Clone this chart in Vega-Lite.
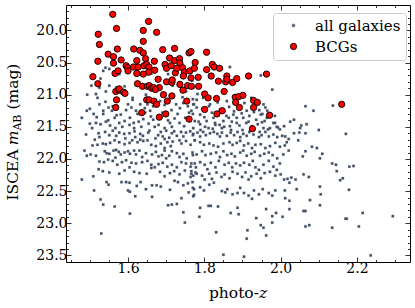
{
"$schema": "https://vega.github.io/schema/vega-lite/v6.json",
"width": 344, "height": 257,
"autosize": "none",
"padding": {"left": 66, "top": 5, "right": 5, "bottom": 46},
"background": "white",
"config": {
  "font": "DejaVu Serif",
  "view": {"stroke": "black", "strokeWidth": 1},
  "axis": {"domain": false, "grid": false, "tickColor": "black", "tickWidth": 0.8, "labelFont": "DejaVu Serif", "labelFontSize": 14, "labelColor": "black", "titleFont": "DejaVu Serif", "titleFontSize": 15.5, "titleFontWeight": "normal", "titleColor": "black", "labelOverlap": false, "labelFlush": false, "labelBound": false}
},
"datasets": {
"gal": [
{"z":1.490,"m":21.62},{"z":1.523,"m":21.60},{"z":1.525,"m":21.66},{"z":1.540,"m":21.58},{"z":1.551,"m":21.63},{"z":1.560,"m":21.56},{"z":1.569,"m":21.64},{"z":1.577,"m":21.59},{"z":1.590,"m":21.61},{"z":1.593,"m":21.68},{"z":1.604,"m":21.60},{"z":1.617,"m":21.57},{"z":1.619,"m":21.66},{"z":1.632,"m":21.61},{"z":1.639,"m":21.64},{"z":1.653,"m":21.59},{"z":1.656,"m":21.56},{"z":1.672,"m":21.68},{"z":1.679,"m":21.63},{"z":1.686,"m":21.58},{"z":1.691,"m":21.65},{"z":1.696,"m":21.69},{"z":1.700,"m":21.56},{"z":1.708,"m":21.67},{"z":1.715,"m":21.60},{"z":1.721,"m":21.57},{"z":1.728,"m":21.64},{"z":1.739,"m":21.58},{"z":1.745,"m":21.65},{"z":1.752,"m":21.59},{"z":1.763,"m":21.57},{"z":1.770,"m":21.63},{"z":1.775,"m":21.71},
{"z":1.513,"m":21.70},{"z":1.507,"m":21.79},{"z":1.520,"m":21.78},{"z":1.534,"m":21.76},{"z":1.542,"m":21.77},{"z":1.553,"m":21.75},{"z":1.565,"m":21.71},{"z":1.577,"m":21.74},{"z":1.591,"m":21.77},{"z":1.604,"m":21.75},{"z":1.611,"m":21.71},{"z":1.625,"m":21.74},{"z":1.632,"m":21.70},{"z":1.640,"m":21.72},{"z":1.651,"m":21.71},{"z":1.661,"m":21.78},{"z":1.673,"m":21.80},{"z":1.686,"m":21.76},{"z":1.696,"m":21.83},{"z":1.703,"m":21.74},{"z":1.712,"m":21.80},{"z":1.717,"m":21.73},{"z":1.735,"m":21.71},{"z":1.740,"m":21.76},{"z":1.752,"m":21.72},{"z":1.764,"m":21.78},
{"z":1.486,"m":21.87},{"z":1.492,"m":21.95},{"z":1.502,"m":21.93},{"z":1.516,"m":21.95},{"z":1.539,"m":21.88},{"z":1.544,"m":21.91},{"z":1.551,"m":21.92},{"z":1.562,"m":21.87},{"z":1.569,"m":21.86},{"z":1.576,"m":21.89},{"z":1.567,"m":21.98},{"z":1.581,"m":21.93},{"z":1.591,"m":21.90},{"z":1.600,"m":21.88},{"z":1.605,"m":21.92},{"z":1.616,"m":21.87},{"z":1.621,"m":21.93},{"z":1.630,"m":21.87},{"z":1.637,"m":21.97},{"z":1.647,"m":21.91},{"z":1.663,"m":21.93},{"z":1.673,"m":21.89},{"z":1.680,"m":21.96},{"z":1.689,"m":21.94},{"z":1.696,"m":21.87},{"z":1.700,"m":21.99},{"z":1.708,"m":21.95},{"z":1.715,"m":21.88},{"z":1.728,"m":21.91},{"z":1.735,"m":21.97},{"z":1.745,"m":21.92},{"z":1.754,"m":21.99},{"z":1.770,"m":21.94},
{"z":1.525,"m":22.04},{"z":1.537,"m":22.05},{"z":1.548,"m":22.01},{"z":1.560,"m":22.03},{"z":1.572,"m":22.09},{"z":1.584,"m":22.05},{"z":1.595,"m":22.02},{"z":1.609,"m":22.06},{"z":1.621,"m":22.07},{"z":1.637,"m":22.05},{"z":1.651,"m":22.03},{"z":1.661,"m":22.09},{"z":1.670,"m":22.13},{"z":1.680,"m":22.08},{"z":1.691,"m":22.06},{"z":1.703,"m":22.12},{"z":1.715,"m":22.09},{"z":1.728,"m":22.13},{"z":1.740,"m":22.05},{"z":1.752,"m":22.07},{"z":1.764,"m":22.12},{"z":1.775,"m":22.07},
{"z":1.523,"m":22.16},{"z":1.534,"m":22.19},{"z":1.551,"m":22.21},{"z":1.577,"m":22.23},{"z":1.591,"m":22.18},{"z":1.604,"m":22.13},{"z":1.616,"m":22.20},{"z":1.630,"m":22.22},{"z":1.649,"m":22.23},{"z":1.661,"m":22.14},{"z":1.684,"m":22.20},{"z":1.696,"m":22.27},{"z":1.710,"m":22.22},{"z":1.721,"m":22.19},{"z":1.735,"m":22.24},{"z":1.749,"m":22.18},{"z":1.766,"m":22.23},{"z":1.777,"m":22.21},
{"z":1.479,"m":22.32},{"z":1.509,"m":22.27},{"z":1.544,"m":22.36},{"z":1.549,"m":22.40},{"z":1.583,"m":22.36},{"z":1.595,"m":22.36},{"z":1.604,"m":22.37},{"z":1.623,"m":22.42},{"z":1.633,"m":22.36},{"z":1.647,"m":22.47},{"z":1.663,"m":22.41},{"z":1.675,"m":22.41},{"z":1.686,"m":22.43},{"z":1.710,"m":22.48},{"z":1.722,"m":22.34},{"z":1.731,"m":22.36},{"z":1.745,"m":22.41},{"z":1.757,"m":22.38},{"z":1.770,"m":22.45},
{"z":1.511,"m":22.49},{"z":1.600,"m":22.49},{"z":1.605,"m":22.51},{"z":1.619,"m":22.58},{"z":1.663,"m":22.59},{"z":1.759,"m":22.52},{"z":1.771,"m":22.58},
{"z":1.528,"m":22.63},{"z":1.535,"m":22.71},{"z":1.565,"m":22.74},{"z":1.605,"m":22.85},{"z":1.705,"m":22.72},{"z":1.715,"m":22.71},{"z":1.728,"m":22.70},{"z":1.740,"m":22.61},{"z":1.745,"m":22.83},{"z":1.749,"m":22.99},{"z":1.530,"m":23.16},
{"z":1.771,"m":21.61},{"z":1.782,"m":21.59},{"z":1.789,"m":21.65},{"z":1.797,"m":21.58},{"z":1.804,"m":21.63},{"z":1.815,"m":21.60},{"z":1.825,"m":21.58},{"z":1.834,"m":21.61},{"z":1.841,"m":21.65},{"z":1.846,"m":21.59},{"z":1.859,"m":21.64},{"z":1.869,"m":21.59},{"z":1.878,"m":21.63},{"z":1.887,"m":21.58},{"z":1.894,"m":21.66},{"z":1.902,"m":21.61},{"z":1.911,"m":21.64},{"z":1.918,"m":21.58},{"z":1.929,"m":21.62},{"z":1.943,"m":21.66},{"z":1.950,"m":21.63},{"z":1.960,"m":21.58},{"z":1.969,"m":21.65},{"z":1.981,"m":21.62},{"z":1.991,"m":21.66},{"z":2.004,"m":21.64},{"z":2.012,"m":21.65},{"z":2.021,"m":21.69},{"z":2.035,"m":21.60},{"z":2.046,"m":21.71},{"z":2.049,"m":21.59},{"z":2.065,"m":21.60},{"z":2.082,"m":21.81},{"z":2.095,"m":21.83},
{"z":1.775,"m":21.71},{"z":1.789,"m":21.74},{"z":1.799,"m":21.78},{"z":1.813,"m":21.76},{"z":1.824,"m":21.79},{"z":1.836,"m":21.81},{"z":1.850,"m":21.76},{"z":1.866,"m":21.74},{"z":1.874,"m":21.78},{"z":1.885,"m":21.75},{"z":1.894,"m":21.72},{"z":1.904,"m":21.79},{"z":1.915,"m":21.76},{"z":1.925,"m":21.83},{"z":1.934,"m":21.78},{"z":1.948,"m":21.77},{"z":1.960,"m":21.83},{"z":1.972,"m":21.80},{"z":1.986,"m":21.75},{"z":1.998,"m":21.81},{"z":2.011,"m":21.79},{"z":2.016,"m":21.74},
{"z":1.769,"m":21.90},{"z":1.780,"m":21.93},{"z":1.794,"m":21.88},{"z":1.803,"m":21.94},{"z":1.817,"m":21.92},{"z":1.831,"m":21.90},{"z":1.841,"m":21.97},{"z":1.850,"m":21.88},{"z":1.860,"m":21.94},{"z":1.871,"m":21.92},{"z":1.880,"m":21.96},{"z":1.894,"m":21.90},{"z":1.902,"m":21.87},{"z":1.911,"m":21.95},{"z":1.923,"m":21.92},{"z":1.932,"m":21.89},{"z":1.946,"m":21.95},{"z":1.957,"m":21.92},{"z":1.969,"m":21.90},{"z":1.979,"m":21.94},{"z":1.991,"m":21.99},{"z":1.998,"m":22.07},{"z":2.007,"m":21.93},{"z":2.021,"m":21.87},{"z":2.058,"m":21.96},{"z":2.065,"m":21.88},
{"z":1.766,"m":22.07},{"z":1.778,"m":22.13},{"z":1.789,"m":22.05},{"z":1.801,"m":22.09},{"z":1.808,"m":22.16},{"z":1.817,"m":22.06},{"z":1.829,"m":22.13},{"z":1.838,"m":22.03},{"z":1.853,"m":22.09},{"z":1.864,"m":22.06},{"z":1.873,"m":22.13},{"z":1.883,"m":22.07},{"z":1.894,"m":22.10},{"z":1.904,"m":22.06},{"z":1.918,"m":22.09},{"z":1.927,"m":22.03},{"z":1.934,"m":22.13},{"z":1.943,"m":22.17},{"z":1.955,"m":22.09},{"z":1.969,"m":22.03},{"z":1.981,"m":22.12},{"z":1.990,"m":22.17},
{"z":1.766,"m":22.19},{"z":1.771,"m":22.26},{"z":1.780,"m":22.23},{"z":1.794,"m":22.26},{"z":1.801,"m":22.32},{"z":1.813,"m":22.23},{"z":1.820,"m":22.31},{"z":1.832,"m":22.21},{"z":1.845,"m":22.28},{"z":1.853,"m":22.24},{"z":1.866,"m":22.30},{"z":1.874,"m":22.20},{"z":1.887,"m":22.23},{"z":1.899,"m":22.28},{"z":1.908,"m":22.21},{"z":1.916,"m":22.32},{"z":1.923,"m":22.27},{"z":1.937,"m":22.23},{"z":1.948,"m":22.30},{"z":1.958,"m":22.22},{"z":1.972,"m":22.20},{"z":1.986,"m":22.26},{"z":2.000,"m":22.24},{"z":2.009,"m":22.32},{"z":2.018,"m":22.31},{"z":2.023,"m":22.37},{"z":2.028,"m":22.29},{"z":2.039,"m":22.32},{"z":2.042,"m":22.47},{"z":2.060,"m":22.24},{"z":2.074,"m":22.28},
{"z":1.769,"m":22.36},{"z":1.773,"m":22.47},{"z":1.789,"m":22.44},{"z":1.799,"m":22.49},{"z":1.813,"m":22.40},{"z":1.825,"m":22.37},{"z":1.846,"m":22.50},{"z":1.855,"m":22.52},{"z":1.860,"m":22.47},{"z":1.874,"m":22.55},{"z":1.887,"m":22.53},{"z":1.894,"m":22.45},{"z":1.904,"m":22.53},{"z":1.916,"m":22.57},{"z":1.925,"m":22.62},{"z":1.930,"m":22.49},{"z":1.943,"m":22.55},{"z":1.953,"m":22.47},{"z":1.969,"m":22.53},{"z":1.978,"m":22.57},{"z":1.986,"m":22.49},{"z":2.011,"m":22.49},{"z":2.012,"m":22.61},{"z":2.023,"m":22.65},{"z":2.103,"m":22.43},
{"z":1.789,"m":22.76},{"z":1.811,"m":22.73},{"z":1.817,"m":22.73},{"z":1.836,"m":22.74},{"z":1.869,"m":22.84},{"z":1.887,"m":22.76},{"z":1.890,"m":22.86},{"z":1.936,"m":22.92},{"z":1.948,"m":23.03},{"z":1.955,"m":23.07},{"z":1.962,"m":22.78},{"z":1.978,"m":22.89},{"z":1.978,"m":22.99},{"z":1.988,"m":22.84},{"z":2.005,"m":22.90},{"z":2.023,"m":22.78},{"z":2.060,"m":22.81},{"z":2.065,"m":22.81},{"z":2.065,"m":23.05},{"z":2.075,"m":23.03},{"z":1.787,"m":22.90},{"z":1.831,"m":23.14},{"z":1.913,"m":23.11},{"z":1.911,"m":23.24},{"z":1.962,"m":23.19},{"z":2.077,"m":22.64},{"z":1.773,"m":22.56},{"z":1.764,"m":22.28},{"z":1.850,"m":23.49},{"z":1.904,"m":23.52},
{"z":1.551,"m":20.60},{"z":1.541,"m":20.58},{"z":1.535,"m":20.63},{"z":1.528,"m":20.75},{"z":1.504,"m":20.86},{"z":1.493,"m":21.00},{"z":1.516,"m":20.99},{"z":1.492,"m":21.25},{"z":1.479,"m":21.36},{"z":1.500,"m":21.22},{"z":1.518,"m":21.35},{"z":1.525,"m":21.15},{"z":1.541,"m":21.11},{"z":1.549,"m":21.20},{"z":1.535,"m":21.25},{"z":1.558,"m":21.25},{"z":1.565,"m":21.36},{"z":1.581,"m":21.31},{"z":1.600,"m":21.15},{"z":1.612,"m":21.08},{"z":1.609,"m":21.20},{"z":1.621,"m":21.25},{"z":1.632,"m":21.15},{"z":1.644,"m":21.21},{"z":1.651,"m":21.15},{"z":1.658,"m":21.25},{"z":1.666,"m":21.18},{"z":1.675,"m":21.13},{"z":1.684,"m":21.10},{"z":1.696,"m":21.16},{"z":1.700,"m":21.29},{"z":1.714,"m":21.24},{"z":1.726,"m":21.15},{"z":1.736,"m":21.21},{"z":1.745,"m":21.13},{"z":1.757,"m":21.18},{"z":1.773,"m":21.15},
{"z":1.516,"m":21.44},{"z":1.528,"m":21.46},{"z":1.542,"m":21.42},{"z":1.553,"m":21.48},{"z":1.567,"m":21.52},{"z":1.577,"m":21.44},{"z":1.591,"m":21.41},{"z":1.604,"m":21.47},{"z":1.616,"m":21.52},{"z":1.628,"m":21.42},{"z":1.640,"m":21.38},{"z":1.654,"m":21.45},{"z":1.666,"m":21.39},{"z":1.680,"m":21.47},{"z":1.696,"m":21.52},{"z":1.710,"m":21.44},{"z":1.722,"m":21.37},{"z":1.735,"m":21.44},{"z":1.747,"m":21.49},{"z":1.763,"m":21.41},{"z":1.771,"m":21.52},{"z":1.506,"m":21.52},
{"z":1.551,"m":20.86},{"z":1.525,"m":20.89},{"z":1.542,"m":20.95},{"z":1.577,"m":20.68},{"z":1.569,"m":20.89},{"z":1.591,"m":20.87},{"z":1.623,"m":20.82},{"z":1.639,"m":20.88},{"z":1.665,"m":20.91},{"z":1.682,"m":20.86},{"z":1.700,"m":20.80},{"z":1.717,"m":20.86},{"z":1.735,"m":20.81},{"z":1.752,"m":20.95},{"z":1.768,"m":20.78},{"z":1.612,"m":21.05},{"z":1.647,"m":21.00},{"z":1.717,"m":21.00},{"z":1.743,"m":21.04},{"z":1.770,"m":21.07},{"z":1.576,"m":20.61},{"z":1.661,"m":20.67},{"z":1.705,"m":20.68},
{"z":1.867,"m":20.57},{"z":1.948,"m":20.70},{"z":1.957,"m":20.68},{"z":1.978,"m":20.92},{"z":1.937,"m":21.15},{"z":1.955,"m":21.15},{"z":1.960,"m":21.20},{"z":1.911,"m":21.25},{"z":1.902,"m":21.36},{"z":1.876,"m":21.31},{"z":1.864,"m":21.36},{"z":1.850,"m":21.41},{"z":1.836,"m":21.31},{"z":1.824,"m":21.36},{"z":1.806,"m":21.41},{"z":1.789,"m":21.31},{"z":1.780,"m":21.20},{"z":1.771,"m":21.15},{"z":1.766,"m":21.25},{"z":1.775,"m":21.41},{"z":1.789,"m":21.46},{"z":1.811,"m":21.52},{"z":1.829,"m":21.47},{"z":1.846,"m":21.52},{"z":1.867,"m":21.49},{"z":1.885,"m":21.44},{"z":1.916,"m":21.42},{"z":1.936,"m":21.39},{"z":1.948,"m":21.31},{"z":1.964,"m":21.36},{"z":1.981,"m":21.44},{"z":1.993,"m":21.51},{"z":2.009,"m":21.49},{"z":2.025,"m":21.42},{"z":2.035,"m":21.39},{"z":2.065,"m":21.18},{"z":2.086,"m":21.25},{"z":1.955,"m":21.52},{"z":2.051,"m":21.52},{"z":2.068,"m":21.46},{"z":1.859,"m":21.10},{"z":1.815,"m":21.15},{"z":1.797,"m":21.05},{"z":1.782,"m":20.99},{"z":1.771,"m":20.89},{"z":1.841,"m":21.23},{"z":1.885,"m":21.15},{"z":1.923,"m":21.05},
{"z":1.985,"m":21.44},{"z":1.967,"m":21.54},{"z":1.990,"m":21.50},{"z":1.998,"m":21.54},{"z":2.054,"m":21.48},{"z":2.100,"m":21.55},{"z":1.951,"m":21.43},{"z":1.944,"m":21.24},
{"z":2.137,"m":21.17},{"z":2.171,"m":21.61},{"z":2.109,"m":21.92},{"z":2.103,"m":21.99},{"z":2.135,"m":22.07},{"z":2.145,"m":22.09},{"z":2.147,"m":22.19},{"z":2.180,"m":22.12},{"z":2.191,"m":22.11},{"z":2.163,"m":22.30},{"z":2.156,"m":22.33},{"z":2.179,"m":22.48},{"z":2.103,"m":22.72},{"z":2.215,"m":22.84},{"z":2.170,"m":22.93},{"z":2.173,"m":22.93},{"z":2.135,"m":23.07},{"z":2.205,"m":23.05},{"z":2.294,"m":22.89},{"z":2.236,"m":23.50},{"z":2.105,"m":22.55},
{"z":1.780,"m":21.08},{"z":1.795,"m":21.22},{"z":1.800,"m":21.35},{"z":1.812,"m":21.18},{"z":1.820,"m":21.28},{"z":1.828,"m":21.44},{"z":1.835,"m":21.12},{"z":1.845,"m":21.27},{"z":1.852,"m":21.50},{"z":1.858,"m":21.33},{"z":1.865,"m":21.19},{"z":1.872,"m":21.42},{"z":1.878,"m":21.26},{"z":1.885,"m":21.36},{"z":1.892,"m":21.48},{"z":1.898,"m":21.29},{"z":1.905,"m":21.13},{"z":1.910,"m":21.44},{"z":1.918,"m":21.33},{"z":1.925,"m":21.49},{"z":1.930,"m":21.27},{"z":1.940,"m":21.46},{"z":1.945,"m":21.58},{"z":1.952,"m":21.30},{"z":1.958,"m":21.41},{"z":1.965,"m":21.25},{"z":1.972,"m":21.52},{"z":1.985,"m":21.33},{"z":1.790,"m":21.55},{"z":1.802,"m":21.50},{"z":1.822,"m":21.53},{"z":1.840,"m":21.47},{"z":1.870,"m":21.55},{"z":1.900,"m":21.55},{"z":1.770,"m":21.30},{"z":1.785,"m":21.42},
{"z":1.520,"m":21.05},{"z":1.535,"m":21.30},{"z":1.548,"m":21.40},{"z":1.560,"m":21.18},{"z":1.570,"m":21.32},{"z":1.585,"m":21.50},{"z":1.595,"m":21.24},{"z":1.605,"m":21.36},{"z":1.615,"m":21.44},{"z":1.625,"m":21.30},{"z":1.635,"m":21.50},{"z":1.645,"m":21.28},{"z":1.660,"m":21.34},{"z":1.670,"m":21.50},{"z":1.690,"m":21.28},{"z":1.705,"m":21.40},{"z":1.715,"m":21.50},{"z":1.730,"m":21.30},{"z":1.750,"m":21.36},{"z":1.760,"m":21.28},{"z":1.500,"m":21.45},{"z":1.510,"m":21.30}
],
"bcg": [
{"z":1.560,"m":19.75},{"z":1.654,"m":19.86},{"z":1.570,"m":19.97},{"z":1.640,"m":20.00},{"z":1.675,"m":20.03},{"z":1.522,"m":20.06},{"z":1.525,"m":20.22},{"z":1.640,"m":20.17},{"z":1.572,"m":20.29},{"z":1.615,"m":20.29},{"z":1.631,"m":20.31},{"z":1.640,"m":20.35},{"z":1.548,"m":20.37},{"z":1.562,"m":20.41},{"z":1.521,"m":20.48},{"z":1.562,"m":20.51},{"z":1.582,"m":20.46},{"z":1.623,"m":20.47},{"z":1.646,"m":20.44},{"z":1.669,"m":20.48},{"z":1.691,"m":20.30},{"z":1.722,"m":20.28},{"z":1.709,"m":20.43},{"z":1.722,"m":20.47},{"z":1.735,"m":20.44},{"z":1.736,"m":20.51},{"z":1.760,"m":20.35},{"z":1.765,"m":20.33},{"z":1.806,"m":20.34},{"z":1.776,"m":20.50},{"z":1.697,"m":20.53},{"z":1.595,"m":20.55},{"z":1.599,"m":20.58},{"z":1.614,"m":20.57},{"z":1.627,"m":20.57},{"z":1.642,"m":20.55},{"z":1.649,"m":20.53},{"z":1.655,"m":20.57},{"z":1.670,"m":20.62},{"z":1.654,"m":20.65},{"z":1.640,"m":20.68},{"z":1.623,"m":20.67},{"z":1.600,"m":20.63},{"z":1.701,"m":20.59},{"z":1.713,"m":20.55},{"z":1.724,"m":20.66},{"z":1.728,"m":20.59},{"z":1.743,"m":20.58},{"z":1.748,"m":20.65},{"z":1.745,"m":20.71},{"z":1.762,"m":20.63},{"z":1.774,"m":20.59},{"z":1.765,"m":20.74},{"z":1.566,"m":20.67},{"z":1.574,"m":20.63},{"z":1.508,"m":20.72},{"z":1.521,"m":20.83},{"z":1.625,"m":20.83},{"z":1.638,"m":20.87},{"z":1.651,"m":20.87},{"z":1.656,"m":20.86},{"z":1.662,"m":20.90},{"z":1.667,"m":20.89},{"z":1.679,"m":20.76},{"z":1.682,"m":20.89},{"z":1.701,"m":20.80},{"z":1.715,"m":20.81},{"z":1.716,"m":20.77},{"z":1.736,"m":20.84},{"z":1.744,"m":20.93},{"z":1.756,"m":20.86},{"z":1.766,"m":20.87},{"z":1.785,"m":20.87},{"z":1.784,"m":20.73},{"z":1.806,"m":20.61},{"z":1.818,"m":20.71},{"z":1.821,"m":20.53},{"z":1.826,"m":20.57},{"z":1.840,"m":20.59},{"z":1.837,"m":20.79},{"z":1.856,"m":20.80},{"z":1.859,"m":20.71},{"z":1.859,"m":20.76},{"z":1.874,"m":20.81},{"z":1.885,"m":20.75},{"z":1.916,"m":20.71},{"z":1.963,"m":20.68},{"z":1.568,"m":20.95},{"z":1.576,"m":20.93},{"z":1.577,"m":20.91},{"z":1.588,"m":20.96},{"z":1.592,"m":20.98},{"z":1.570,"m":21.08},{"z":1.568,"m":21.20},{"z":1.649,"m":21.08},{"z":1.655,"m":21.08},{"z":1.668,"m":21.10},{"z":1.675,"m":21.15},{"z":1.693,"m":21.00},{"z":1.703,"m":21.10},{"z":1.715,"m":21.02},{"z":1.754,"m":21.10},{"z":1.801,"m":20.99},{"z":1.810,"m":21.05},{"z":1.832,"m":21.06},{"z":1.852,"m":20.95},{"z":1.881,"m":21.04},{"z":1.890,"m":21.03},{"z":1.901,"m":21.01},{"z":1.882,"m":21.12},{"z":1.929,"m":21.09},{"z":1.939,"m":21.12},{"z":1.929,"m":21.20},{"z":1.892,"m":21.20},{"z":1.801,"m":21.23},{"z":1.833,"m":21.30},{"z":1.847,"m":21.25},{"z":1.636,"m":21.28},{"z":1.682,"m":21.35},{"z":1.699,"m":21.30},{"z":1.760,"m":21.38},{"z":1.971,"m":21.32},{"z":1.926,"m":21.53},{"z":2.160,"m":21.15},{"z":1.672,"m":20.92}
]
},
"layer": [
{
 "data": {"name": "gal"},
 "mark": {"type": "point", "filled": true, "strokeWidth": 0.25, "opacity": 1},
 "encoding": {
  "x": {"field": "z", "type": "quantitative", "scale": {"domain": [1.4375, 2.339], "nice": false, "zero": false},
        "axis": {"orient": "bottom", "values": [1.45,1.5,1.55,1.6,1.65,1.7,1.75,1.8,1.85,1.9,1.95,2.0,2.05,2.1,2.15,2.2,2.25,2.3],
                 "tickSize": {"condition": {"test": "abs(datum.value*5-round(datum.value*5))<0.001", "value": -5}, "value": -2.5},
                 "labelExpr": "abs(datum.value*5-round(datum.value*5))<0.001 ? format(datum.value,'.1f') : ''",
                 "labelPadding": 4,
                 "title": "photo-", "titleX": 142.4, "titleY": 35.5, "titleAlign": "left", "titleBaseline": "alphabetic", "titleAngle": 0}},
  "y": {"field": "m", "type": "quantitative", "scale": {"domain": [19.605, 23.603], "reverse": true, "nice": false, "zero": false},
        "axis": {"orient": "left", "values": [19.7,19.8,19.9,20.0,20.1,20.2,20.3,20.4,20.5,20.6,20.7,20.8,20.9,21.0,21.1,21.2,21.3,21.4,21.5,21.6,21.7,21.8,21.9,22.0,22.1,22.2,22.3,22.4,22.5,22.6,22.7,22.8,22.9,23.0,23.1,23.2,23.3,23.4,23.5],
                 "tickSize": {"condition": {"test": "abs(datum.value*2-round(datum.value*2))<0.001", "value": -5}, "value": -2.5},
                 "labelExpr": "abs(datum.value*2-round(datum.value*2))<0.001 ? format(datum.value,'.1f') : ''",
                 "labelPadding": 4,
                 "title": "ISCEA", "titleX": -48.7, "titleY": 195, "titleAngle": 270, "titleAlign": "left", "titleBaseline": "alphabetic"}},
  "color": {"datum": "all galaxies", "type": "nominal", "scale": {"domain": ["all galaxies", "BCGs"], "range": ["#3e4c60", "#ff0000"]},
            "legend": {"title": null, "orient": "none", "legendX": 207, "legendY": 8, "labelFontSize": 15, "labelFont": "DejaVu Serif", "labelColor": "black", "padding": 5, "rowPadding": 5, "symbolOffset": 8, "labelOffset": 14, "fillColor": "rgba(255,255,255,0.8)", "strokeColor": "#cccccc", "cornerRadius": 3, "symbolStrokeWidth": 0.9, "symbolOpacity": 1}},
  "shape": {"datum": "all galaxies", "type": "nominal", "scale": {"domain": ["all galaxies", "BCGs"], "range": ["square", "circle"]}},
  "size": {"datum": "all galaxies", "type": "nominal", "scale": {"type": "point", "domain": ["all galaxies", "BCGs"], "range": [6, 40], "padding": 0}},
  "stroke": {"datum": "all galaxies", "type": "nominal", "scale": {"domain": ["all galaxies", "BCGs"], "range": ["#6b7789", "#000000"]}}
 }
},
{
 "data": {"name": "bcg"},
 "mark": {"type": "point", "filled": true, "strokeWidth": 0.9, "opacity": 1},
 "encoding": {
  "x": {"field": "z", "type": "quantitative", "scale": {"domain": [1.4375, 2.339], "nice": false, "zero": false},
        "axis": {"orient": "top", "values": [1.45,1.5,1.55,1.6,1.65,1.7,1.75,1.8,1.85,1.9,1.95,2.0,2.05,2.1,2.15,2.2,2.25,2.3],
                 "tickSize": {"condition": {"test": "abs(datum.value*5-round(datum.value*5))<0.001", "value": -5}, "value": -2.5},
                 "labels": false,
                 "title": "z", "titleFontStyle": "italic", "titleX": 192.4, "titleY": 292.5, "titleAlign": "left", "titleBaseline": "alphabetic", "titleAngle": 0}},
  "y": {"field": "m", "type": "quantitative", "scale": {"domain": [19.605, 23.603], "reverse": true, "nice": false, "zero": false},
        "axis": {"orient": "right", "values": [19.7,19.8,19.9,20.0,20.1,20.2,20.3,20.4,20.5,20.6,20.7,20.8,20.9,21.0,21.1,21.2,21.3,21.4,21.5,21.6,21.7,21.8,21.9,22.0,22.1,22.2,22.3,22.4,22.5,22.6,22.7,22.8,22.9,23.0,23.1,23.2,23.3,23.4,23.5],
                 "tickSize": {"condition": {"test": "abs(datum.value*2-round(datum.value*2))<0.001", "value": -5}, "value": -2.5},
                 "labels": false,
                 "title": "m", "titleFontStyle": "italic", "titleX": -392.7, "titleY": 139.8, "titleAngle": 270, "titleAlign": "left", "titleBaseline": "alphabetic"}},
  "color": {"datum": "BCGs", "type": "nominal", "scale": {"domain": ["all galaxies", "BCGs"], "range": ["#3e4c60", "#ff0000"]}},
  "shape": {"datum": "BCGs", "type": "nominal", "scale": {"domain": ["all galaxies", "BCGs"], "range": ["square", "circle"]}},
  "size": {"datum": "BCGs", "type": "nominal", "scale": {"type": "point", "domain": ["all galaxies", "BCGs"], "range": [6, 40], "padding": 0}},
  "stroke": {"datum": "BCGs", "type": "nominal", "scale": {"domain": ["all galaxies", "BCGs"], "range": ["#6b7789", "#000000"]}}
 }
},
{
 "data": {"values": []},
 "mark": {"type": "point"},
 "encoding": {
  "x": {"field": "z", "type": "quantitative", "scale": {"domain": [1.4375, 2.339], "nice": false, "zero": false},
        "axis": {"orient": "bottom", "ticks": false, "labels": false, "domain": false,
                 "title": "AB", "titleFontSize": 11, "titleX": -45.2, "titleY": -131.9, "titleAngle": 270, "titleAlign": "left", "titleBaseline": "alphabetic"}},
  "y": {"field": "m", "type": "quantitative", "scale": {"domain": [19.605, 23.603], "reverse": true, "nice": false, "zero": false},
        "axis": {"orient": "left", "ticks": false, "labels": false, "domain": false,
                 "title": "(mag)", "titleX": -48.7, "titleY": 104.1, "titleAngle": 270, "titleAlign": "left", "titleBaseline": "alphabetic"}}
 }
}
],
"resolve": {"axis": {"x": "independent", "y": "independent"}}
}
